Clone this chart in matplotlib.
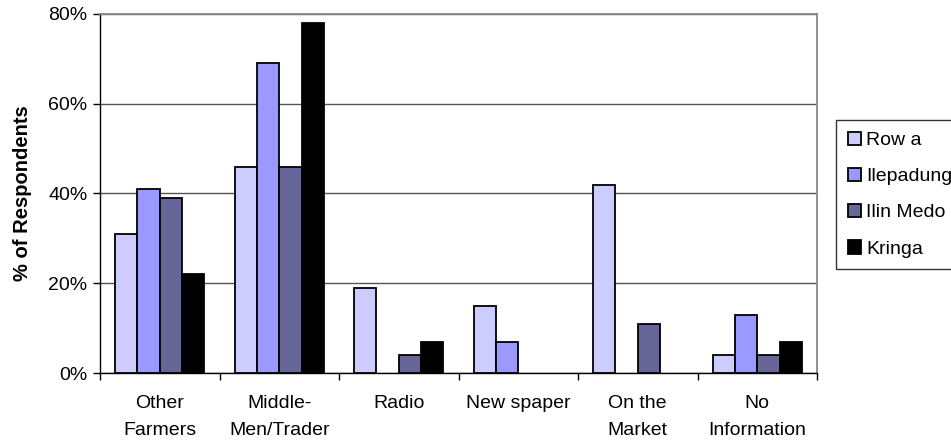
import matplotlib
matplotlib.use("Agg")
import matplotlib.pyplot as plt
import numpy as np
from matplotlib.ticker import FuncFormatter, FixedLocator

plt.rcParams['font.family'] = ['Liberation Sans', 'DejaVu Sans']

categories = ["Other\nFarmers", "Middle-\nMen/Trader", "Radio", "New spaper",
              "On the\nMarket", "No\nInformation"]
series_names = ["Row a", "Ilepadung", "Ilin Medo", "Kringa"]
row_a = [31, 46, 19, 15, 42, 4]
ilepadung = [41, 69, 0, 7, 0, 13]
ilin_medo = [39, 46, 4, 0, 11, 4]
kringa = [22, 78, 7, 0, 0, 7]
series_values = [row_a, ilepadung, ilin_medo, kringa]
colors = ["#CCCCFF", "#9999FF", "#666699", "#000000"]
y_ticks = [0, 20, 40, 60, 80]

W, H = 951, 444
fig = plt.figure(figsize=(W / 100, H / 100), dpi=100)
ax = fig.add_axes([100 / W, (H - 373) / H, 717 / W, 359 / H])

n = len(categories)
x = np.arange(n)
bw = 0.187
offsets = (np.arange(4) - 1.5) * bw
handles = []
for vals, name, col, off in zip(series_values, series_names, colors, offsets):
    v = np.array(vals, dtype=float)
    mask = v > 0
    b = ax.bar(x[mask] + off, v[mask], width=bw, color=col, edgecolor="black",
               linewidth=1.3, label=name, zorder=3)
    handles.append(b)

ax.set_xlim(-0.5, n - 0.5)
ax.set_ylim(0, 80)
ax.set_yticks(y_ticks)
ax.yaxis.set_major_formatter(FuncFormatter(lambda v, p: f"{int(v)}%"))
ax.grid(axis="y", color="#555555", linewidth=1.0, zorder=0)

fs = 14
ax.set_xticks(x)
ax.set_xticklabels(categories, linespacing=1.75)
ax.xaxis.set_minor_locator(FixedLocator(np.arange(n + 1) - 0.5))
ax.tick_params(axis="x", which="major", length=0, pad=16, labelsize=fs)
ax.tick_params(axis="x", which="minor", length=5, direction="out", width=1)
ax.tick_params(axis="y", length=5, direction="out", width=1, labelsize=fs, pad=4)

for side in ("top", "right"):
    ax.spines[side].set_color("#888888")
    ax.spines[side].set_linewidth(1.3)
for side in ("left", "bottom"):
    ax.spines[side].set_color("black")
    ax.spines[side].set_linewidth(1.0)

ax.set_ylabel("% of Respondents", fontsize=14.5, fontweight="bold", labelpad=12)

leg = fig.legend(handles=handles, labels=series_names, loc="upper left",
                 bbox_to_anchor=(836 / W, 1 - 120 / H), fontsize=fs,
                 frameon=True, fancybox=False, edgecolor="black",
                 handlelength=0.7, handleheight=0.7, handletextpad=0.25,
                 labelspacing=0.95, borderpad=0.6, borderaxespad=0)
leg.get_frame().set_linewidth(1.0)

fig.savefig("out.png", dpi=100)
